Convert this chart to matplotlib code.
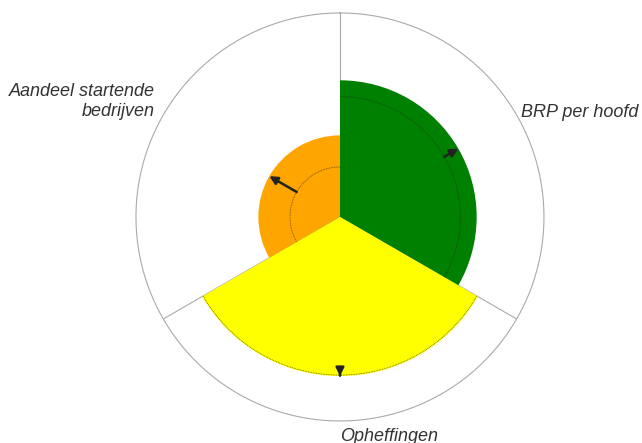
import numpy as np
import matplotlib.pyplot as plt

# indicator names, sector centre angles (degrees) and normalised values
labels = ["BRP per hoofd", "Opheffingen", "Aandeel startende\nbedrijven"]
angles_deg = [30, 270, 150]
current = [0.67, 0.78, 0.40]
previous = [0.59, 0.775, 0.245]
colors = ["#008000", "#ffff00", "#ffa500"]

# label placement (angle, radius, ha, va)
label_pos = [(30, 1.025, "left", "center"),
             (270, 1.035, "left", "top"),
             (148, 1.07, "right", "center")]

width = 2 * np.pi / 3
theta = np.deg2rad(angles_deg)

fig = plt.figure(figsize=(6.42, 4.43), dpi=100)
ax = fig.add_axes([0.2118, 0.0497, 0.6355, 0.921], projection="polar")

# spokes on the sector borders and the outer ring
for b in [90, -30, 210]:
    ax.plot([np.deg2rad(b)] * 2, [0, 1], color="#aaaaaa", lw=0.8, zorder=1)
ring = np.linspace(np.pi / 2, np.pi / 2 + 2 * np.pi, 400)
ax.plot(ring, np.ones_like(ring), color="#aaaaaa", lw=0.8, zorder=1,
        clip_on=False)

ax.bar(theta, current, width=width, color=colors, edgecolor="none", zorder=2)

# previous value: dotted arc + arrow to current value
for t, prev, cur in zip(theta, previous, current):
    arc = np.linspace(t - width / 2, t + width / 2, 100)
    ax.plot(arc, [prev] * len(arc), color="#222222", lw=0.6, ls=(0, (1, 1)),
            alpha=0.7, zorder=3)
    ax.annotate("", xy=(t, cur), xytext=(t, prev),
                arrowprops=dict(arrowstyle="-|>", color="#222222", lw=1.8,
                                mutation_scale=12, shrinkA=0, shrinkB=0),
                zorder=4)

for (a, r, ha, va), txt in zip(label_pos, labels):
    ax.text(np.deg2rad(a), r, txt, ha=ha, va=va, multialignment=ha,
            fontsize=13, style="italic", family="Liberation Sans",
            color="#333333", clip_on=False)

ax.set_ylim(0, 1)
ax.grid(False)
ax.set_xticks([])
ax.set_yticks([])
ax.spines["polar"].set_visible(False)
ax.patch.set_visible(False)

fig.savefig("out.png", dpi=100)
